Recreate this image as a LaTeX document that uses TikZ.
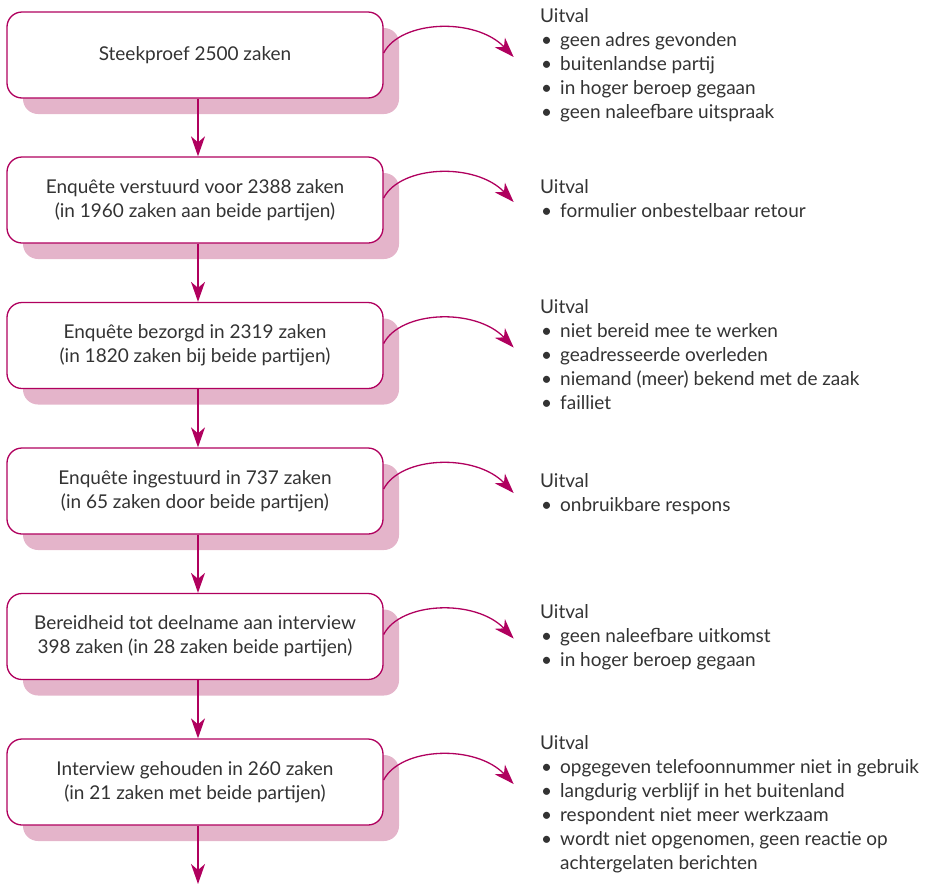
\documentclass[tikz,border=0pt]{standalone}
\usepackage{fontspec}
\setmainfont{Lato}
\usetikzlibrary{arrows.meta,shadows,calc}
\definecolor{mag}{HTML}{B0005E}
\definecolor{shade}{HTML}{E4B4CA}
\definecolor{ink}{HTML}{333333}
\newcommand{\bul}[1]{\makebox[20pt][l]{\kern1pt•}#1}
\newcommand{\cont}[1]{\hspace*{20pt}#1}
\newenvironment{droplist}{\begin{tabular}[t]{@{}l@{}}}{\end{tabular}}
\begin{document}
\begin{tikzpicture}[x=1pt,y=-1pt,
  stage/.style={draw=mag, line width=1.3pt, fill=white, rounded corners=15pt,
    minimum width=376pt, minimum height=86pt, align=center, text=ink,
    font=\fontsize{19}{24}\selectfont,
    drop shadow={shadow xshift=16pt, shadow yshift=-16pt, fill=shade, opacity=1}},
  drop/.style={text=ink, inner sep=0pt, anchor=base west,
    font=\fontsize{19}{24}\selectfont},
  flow/.style={draw=mag, line width=1.3pt,
    -{Stealth[length=20pt, width=14pt, inset=6pt]}}
]
\useasboundingbox (0,0) rectangle (930,884);

% stages of the survey
\node[stage] (s1) at (195,55)    {Steekproef 2500 zaken};
\node[stage] (s2) at (195,200)   {Enquête verstuurd voor 2388 zaken\\(in 1960 zaken aan beide partijen)};
\node[stage] (s3) at (195,345.5) {Enquête bezorgd in 2319 zaken\\(in 1820 zaken bij beide partijen)};
\node[stage] (s4) at (195,491)   {Enquête ingestuurd in 737 zaken\\(in 65 zaken door beide partijen)};
\node[stage] (s5) at (195,636.5) {Bereidheid tot deelname aan interview\\398 zaken (in 28 zaken beide partijen)};
\node[stage] (s6) at (195,782)   {Interview gehouden in 260 zaken\\(in 21 zaken met beide partijen)};
\coordinate (end) at (198,884);

% dropout lists (anchored at the baseline of their first line)
\node[drop] (u1) at (540,22)  {\begin{droplist}Uitval\\\bul{geen adres gevonden}\\\bul{buitenlandse partij}\\\bul{in hoger beroep gegaan}\\\bul{geen naleefbare uitspraak}\end{droplist}};
\node[drop] (u2) at (540,193) {\begin{droplist}Uitval\\\bul{formulier onbestelbaar retour}\end{droplist}};
\node[drop] (u3) at (540,313) {\begin{droplist}Uitval\\\bul{niet bereid mee te werken}\\\bul{geadresseerde overleden}\\\bul{niemand (meer) bekend met de zaak}\\\bul{failliet}\end{droplist}};
\node[drop] (u4) at (540,487) {\begin{droplist}Uitval\\\bul{onbruikbare respons}\end{droplist}};
\node[drop] (u5) at (540,618) {\begin{droplist}Uitval\\\bul{geen naleefbare uitkomst}\\\bul{in hoger beroep gegaan}\end{droplist}};
\node[drop] (u6) at (540,749) {\begin{droplist}Uitval\\\bul{opgegeven telefoonnummer niet in gebruik}\\\bul{langdurig verblijf in het buitenland}\\\bul{respondent niet meer werkzaam}\\\bul{wordt niet opgenomen, geen reactie op}\\\cont{achtergelaten berichten}\end{droplist}};

% arrow tips towards the lists
\foreach \i in {1,...,6} {
  \coordinate (t\i) at ($(s\i.east)+(130,2)$);
}

% main flow, slightly right of the box centres
\foreach \a/\b in {s1/s2, s2/s3, s3/s4, s4/s5, s5/s6} {
  \draw[flow] ($(\a.south)+(3,0)$) -- ($(\b.north)+(3,0)$);
}
\draw[flow] ($(s6.south)+(3,0)$) -- (end);

% dropout arrows
\foreach \i in {1,...,6} {
  \draw[flow] ($(s\i.east)+(0,-2)$) .. controls +(17,-33) and +(-38,-40) .. (t\i);
}
\end{tikzpicture}
\end{document}
